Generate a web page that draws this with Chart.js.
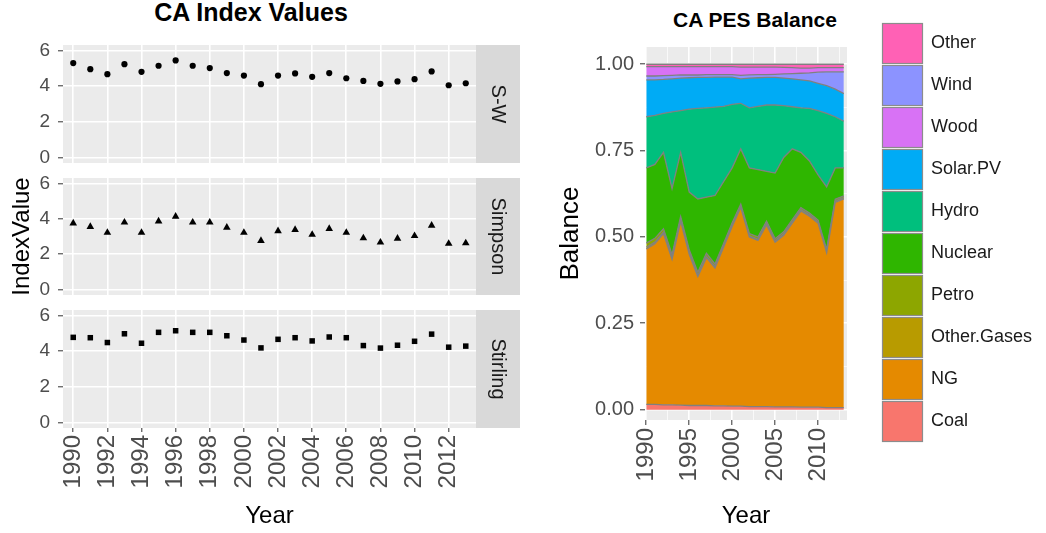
<!DOCTYPE html>
<html>
<head>
<meta charset="utf-8">
<title>CA Index Values / CA PES Balance</title>
<script src="https://cdn.jsdelivr.net/npm/chart.js@4.4.1/dist/chart.umd.min.js"></script>
<style>
  body { margin: 0; background: #fff; width: 1046px; height: 533px; position: relative; overflow: hidden; }
  canvas { position: absolute; }
  .title { position: absolute; font-family: "Liberation Sans", Arial, sans-serif; font-weight: bold;
           line-height: 28px; color: #000; white-space: nowrap; transform: translateX(-50%); }
</style>
</head>
<body>
<div class="title" style="left:251px; top:-2px; font-size:25px;">CA Index Values</div>
<div class="title" style="left:755px; top:6px; font-size:21px;">CA PES Balance</div>

<canvas id="swChart" width="525" height="130" style="left:0; top:38px;"></canvas>
<canvas id="simpsonChart" width="525" height="130" style="left:0; top:171px;"></canvas>
<canvas id="stirlingChart" width="525" height="230" style="left:0; top:303px;"></canvas>
<canvas id="balanceChart" width="506" height="533" style="left:540px; top:0;"></canvas>

<script>
// diversity indices per year
const years = [1990, 1991, 1992, 1993, 1994, 1995, 1996, 1997, 1998, 1999, 2000, 2001,
               2002, 2003, 2004, 2005, 2006, 2007, 2008, 2009, 2010, 2011, 2012, 2013];
const swIndex = [5.29, 4.95, 4.67, 5.23, 4.80, 5.14, 5.44, 5.14, 5.01, 4.73, 4.59, 4.11,
                 4.59, 4.71, 4.52, 4.73, 4.44, 4.29, 4.13, 4.26, 4.39, 4.82, 4.05, 4.16];
const simpsonIndex = [3.75, 3.55, 3.22, 3.80, 3.22, 3.86, 4.13, 3.80, 3.80, 3.51, 3.22, 2.76,
                      3.31, 3.38, 3.11, 3.44, 3.22, 2.91, 2.67, 2.89, 3.04, 3.62, 2.60, 2.63];
const stirlingIndex = [4.77, 4.75, 4.48, 4.97, 4.44, 5.05, 5.14, 5.05, 5.05, 4.86, 4.62, 4.18,
                       4.66, 4.75, 4.57, 4.79, 4.75, 4.31, 4.17, 4.33, 4.55, 4.95, 4.22, 4.28];

// primary energy supply shares, bottom of the stack first
const coal = [0.015, 0.015, 0.014, 0.014, 0.013, 0.012, 0.012, 0.012, 0.011, 0.011, 0.010, 0.010,
              0.009, 0.009, 0.009, 0.008, 0.008, 0.008, 0.007, 0.007, 0.007, 0.006, 0.006, 0.006];
const ng = [0.450, 0.465, 0.496, 0.421, 0.532, 0.438, 0.373, 0.428, 0.399, 0.459, 0.520, 0.575,
            0.491, 0.481, 0.526, 0.477, 0.497, 0.532, 0.568, 0.553, 0.533, 0.449, 0.594, 0.604];
const otherGases = [0.005, 0.005, 0.004, 0.004, 0.004, 0.004, 0.004, 0.004, 0.004, 0.003, 0.003, 0.003,
                    0.003, 0.003, 0.004, 0.004, 0.004, 0.004, 0.004, 0.004, 0.004, 0.004, 0.004, 0.004];
const petro = [0.012, 0.011, 0.010, 0.010, 0.010, 0.009, 0.009, 0.009, 0.008, 0.008, 0.008, 0.007,
               0.007, 0.007, 0.007, 0.006, 0.006, 0.006, 0.006, 0.005, 0.005, 0.005, 0.005, 0.005];
const nuclear = [0.218, 0.214, 0.221, 0.191, 0.186, 0.167, 0.212, 0.162, 0.198, 0.179, 0.159, 0.160,
                 0.190, 0.195, 0.144, 0.190, 0.215, 0.205, 0.160, 0.151, 0.131, 0.181, 0.091, 0.081];
const hydro = [0.148, 0.142, 0.113, 0.222, 0.121, 0.240, 0.262, 0.259, 0.256, 0.218, 0.184, 0.132,
               0.174, 0.183, 0.192, 0.197, 0.150, 0.122, 0.129, 0.152, 0.186, 0.213, 0.148, 0.135];
const solarPV = [0.107, 0.103, 0.098, 0.096, 0.094, 0.091, 0.090, 0.088, 0.087, 0.085, 0.079, 0.071,
                 0.086, 0.083, 0.080, 0.080, 0.080, 0.081, 0.081, 0.080, 0.079, 0.080, 0.080, 0.080];
const wind = [0.011, 0.011, 0.011, 0.010, 0.009, 0.008, 0.007, 0.008, 0.007, 0.007, 0.007, 0.010,
              0.009, 0.009, 0.008, 0.009, 0.012, 0.015, 0.019, 0.023, 0.032, 0.040, 0.050, 0.063];
const wood = [0.027, 0.027, 0.026, 0.025, 0.024, 0.024, 0.024, 0.023, 0.023, 0.023, 0.023, 0.024,
              0.023, 0.022, 0.022, 0.021, 0.019, 0.017, 0.015, 0.014, 0.013, 0.012, 0.012, 0.012];
const other = [0.007, 0.007, 0.007, 0.007, 0.007, 0.007, 0.007, 0.007, 0.007, 0.007, 0.007, 0.008,
               0.008, 0.008, 0.008, 0.008, 0.009, 0.010, 0.011, 0.011, 0.010, 0.010, 0.010, 0.010];

const sourceNames = ["Coal", "NG", "Other.Gases", "Petro", "Nuclear", "Hydro", "Solar.PV", "Wind", "Wood", "Other"];
const sourceSeries = [coal, ng, otherGases, petro, nuclear, hydro, solarPV, wind, wood, other];
const sourceColors = ["#F8766D", "#E58A00", "#B89B00", "#8DA600", "#2FB600", "#00BF7D", "#00ABF5", "#8C93FF", "#D872F5", "#FF61B5"];
const legendOrder = ["Other", "Wind", "Wood", "Solar.PV", "Hydro", "Nuclear", "Petro", "Other.Gases", "NG", "Coal"];

// tick labels
const indexTicks = [0, 2, 4, 6];
const indexGridLines = [0, 1, 2, 3, 4, 5, 6];
const indexYearTicks = [1990, 1992, 1994, 1996, 1998, 2000, 2002, 2004, 2006, 2008, 2010, 2012];
const balanceTicks = [0, 0.25, 0.5, 0.75, 1];
const balanceGridLines = [0, 0.125, 0.25, 0.375, 0.5, 0.625, 0.75, 0.875, 1];
const balanceYearTicks = [1990, 1995, 2000, 2005, 2010];
const balanceYearGridLines = [1990, 1992.5, 1995, 1997.5, 2000, 2002.5, 2005, 2007.5, 2010, 2012.5];

const FONT = '"Liberation Sans", Arial, Helvetica, sans-serif';
Chart.defaults.font.family = FONT;
Chart.defaults.color = "#4d4d4d";

// grey panel behind the plotting area
const panelBg = {
  id: "panelBg",
  beforeDraw(chart) {
    const { ctx, chartArea: a } = chart;
    ctx.save();
    ctx.fillStyle = "#ebebeb";
    ctx.fillRect(a.left, a.top, a.right - a.left, a.bottom - a.top);
    ctx.restore();
  }
};

// facet label strip on the right of each panel
const facetStrip = {
  id: "facetStrip",
  afterDraw(chart, args, opts) {
    const { ctx, chartArea: a } = chart;
    ctx.save();
    ctx.fillStyle = "#d9d9d9";
    ctx.fillRect(a.right, a.top, 44, a.bottom - a.top);
    ctx.translate(a.right + 22, (a.top + a.bottom) / 2);
    ctx.rotate(Math.PI / 2);
    ctx.fillStyle = "#1a1a1a";
    ctx.font = "20px " + FONT;
    ctx.textAlign = "center";
    ctx.textBaseline = "middle";
    ctx.fillText(opts.text, 0, 0);
    ctx.restore();
  }
};

// square-key legend drawn to the right of the area chart
const boxLegend = {
  id: "boxLegend",
  afterDraw(chart, args, opts) {
    const { ctx } = chart;
    ctx.save();
    ctx.font = "18px " + FONT;
    ctx.textBaseline = "middle";
    opts.order.forEach((name, k) => {
      const ds = chart.data.datasets.find(d => d.label === name);
      const y = opts.top + k * opts.pitch;
      ctx.fillStyle = ds.backgroundColor;
      ctx.fillRect(opts.left, y, opts.size, opts.size);
      ctx.strokeStyle = "#8c8c8c";
      ctx.lineWidth = 1.2;
      ctx.strokeRect(opts.left + 0.5, y + 0.5, opts.size - 1, opts.size - 1);
      ctx.fillStyle = "#1a1a1a";
      ctx.fillText(name, opts.left + opts.size + 8, y + opts.size / 2);
    });
    ctx.restore();
  }
};

// the panels are sized by hand, so drop the label overhang padding
function noOverhang(s) {
  s.paddingTop = 0;
  s.paddingBottom = 0;
  s.paddingLeft = 0;
  s.paddingRight = 0;
}

function facetChart(canvasId, stripLabel, values, pointStyle, radius, cfg) {
  const bottom = !!cfg.bottomAxis;
  return new Chart(document.getElementById(canvasId), {
    type: "scatter",
    data: {
      datasets: [{
        data: years.map((yr, i) => ({ x: yr, y: values[i] })),
        pointStyle: pointStyle,
        pointRadius: radius,
        backgroundColor: "#000",
        borderColor: "#000",
        borderWidth: 0
      }]
    },
    options: {
      responsive: false,
      animation: false,
      layout: { padding: { top: 7, right: 49, bottom: cfg.padBottom, left: 0 } },
      plugins: {
        legend: { display: false },
        tooltip: { enabled: false },
        facetStrip: { text: stripLabel }
      },
      scales: {
        x: {
          type: "linear",
          min: 1989.4,
          max: 2013.6,
          afterBuildTicks: s => { s.ticks = indexYearTicks.map(v => ({ value: v })); },
          afterFit: s => { noOverhang(s); s.height = bottom ? 105 : 0; },
          border: { display: false },
          grid: { color: "#fff", lineWidth: 1.6, drawTicks: bottom, tickLength: 4, tickColor: "#333", tickWidth: 1 },
          ticks: {
            display: bottom, autoSkip: false, minRotation: 90, maxRotation: 90, padding: 3,
            color: "#4d4d4d", font: { size: 24 }, callback: v => String(v)
          },
          title: { display: bottom, text: "Year", color: "#000", font: { size: 24 }, padding: { top: 0, bottom: 2 } }
        },
        y: {
          min: -0.3,
          max: 6.3,
          afterBuildTicks: s => { s.ticks = indexGridLines.map(v => ({ value: v })); },
          afterFit: s => { noOverhang(s); s.width = 63; },
          border: { display: false },
          grid: {
            color: "#fff",
            lineWidth: c => indexTicks.includes(c.tick.value) ? 1.6 : 0.7,
            tickLength: 5,
            tickWidth: 1,
            tickColor: c => indexTicks.includes(c.tick.value) ? "#333" : "rgba(0,0,0,0)"
          },
          ticks: {
            padding: 8, color: "#4d4d4d", font: { size: 19 },
            callback: v => indexTicks.includes(v) ? String(v) : ""
          },
          title: {
            display: !!cfg.yTitle, text: cfg.yTitle || "", color: "#000",
            font: { size: 24 }, padding: { top: 8, bottom: 0 }
          }
        }
      }
    },
    plugins: [panelBg, facetStrip]
  });
}

facetChart("swChart", "S-W", swIndex, "circle", 3.1, { padBottom: 5 });
facetChart("simpsonChart", "Simpson", simpsonIndex, "triangle", 4.4, { padBottom: 6, yTitle: "IndexValue" });
facetChart("stirlingChart", "Stirling", stirlingIndex, "rect", 3.9, { padBottom: 0, bottomAxis: true });

new Chart(document.getElementById("balanceChart"), {
  type: "line",
  data: {
    datasets: sourceSeries.map((vals, k) => ({
      label: sourceNames[k],
      data: years.map((yr, i) => ({ x: yr, y: vals[i] })),
      backgroundColor: sourceColors[k],
      borderColor: "#808080",
      borderWidth: 1.3,
      pointRadius: 0,
      tension: 0,
      fill: k === 0 ? "origin" : "-1"
    }))
  },
  options: {
    responsive: false,
    animation: false,
    layout: { padding: { top: 47, right: 199, bottom: 0, left: 0 } },
    plugins: {
      legend: { display: false },
      tooltip: { enabled: false },
      boxLegend: { order: legendOrder, left: 342, top: 23, size: 41, pitch: 42 }
    },
    scales: {
      x: {
        type: "linear",
        min: 1989.85,
        max: 2013.37,
        afterBuildTicks: s => { s.ticks = balanceYearGridLines.map(v => ({ value: v })); },
        afterFit: s => { noOverhang(s); s.height = 113; },
        border: { display: false },
        grid: {
          color: "#fff",
          lineWidth: c => balanceYearTicks.includes(c.tick.value) ? 1.6 : 0.7,
          tickLength: 5,
          tickWidth: 1,
          tickColor: c => balanceYearTicks.includes(c.tick.value) ? "#333" : "rgba(0,0,0,0)"
        },
        ticks: {
          autoSkip: false, minRotation: 90, maxRotation: 90, padding: 3,
          color: "#4d4d4d", font: { size: 24 },
          callback: v => balanceYearTicks.includes(v) ? String(v) : ""
        },
        title: { display: true, text: "Year", color: "#000", font: { size: 24 }, padding: { top: 0, bottom: 2 } }
      },
      y: {
        stacked: true,
        min: -0.03,
        max: 1.05,
        afterBuildTicks: s => { s.ticks = balanceGridLines.map(v => ({ value: v })); },
        afterFit: s => { noOverhang(s); s.width = 105; },
        border: { display: false },
        grid: {
          color: "#fff",
          lineWidth: c => balanceTicks.includes(c.tick.value) ? 1.6 : 0.7,
          tickLength: 5,
          tickWidth: 1,
          tickColor: c => balanceTicks.includes(c.tick.value) ? "#333" : "rgba(0,0,0,0)"
        },
        ticks: {
          padding: 6, color: "#4d4d4d", font: { size: 20 },
          callback: v => balanceTicks.includes(v) ? v.toFixed(2) : ""
        },
        title: { display: true, text: "Balance", color: "#000", font: { size: 26 }, padding: { top: 15, bottom: 0 } }
      }
    }
  },
  plugins: [panelBg, boxLegend]
});
</script>
</body>
</html>
